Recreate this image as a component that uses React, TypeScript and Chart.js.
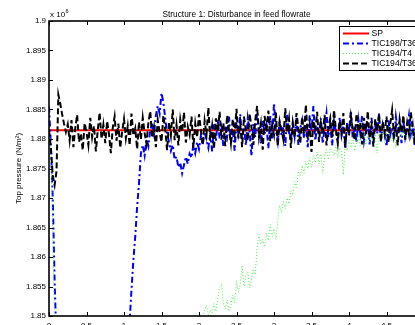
import React, { useEffect, useRef } from "react";
import { Chart, registerables } from "chart.js";

Chart.register(...registerables);

// ---------- data ----------
const SAMPLE_STEP = 0.025; // time between samples
const X_TICKS = [0, 0.5, 1, 1.5, 2, 2.5, 3, 3.5, 4, 4.5, 5];
const X_TICK_LABELS = ["0", "0.5", "1", "1.5", "2", "2.5", "3", "3.5", "4", "4.5", "5"];
const Y_TICKS = [1.85, 1.855, 1.86, 1.865, 1.87, 1.875, 1.88, 1.885, 1.89, 1.895, 1.9];
const Y_TICK_LABELS = ["1.85", "1.855", "1.86", "1.865", "1.87", "1.875", "1.88", "1.885", "1.89", "1.895", "1.9"];

const SERIES_NAMES = ["SP", "TIC198/T36", "TIC194/T4", "TIC194/T36"];

const SP_TIME = [0, 5];
const SP_VALUES = [1.8815, 1.8815];

const TIC198_T36 = [
  1.8855, 1.8790, 1.8700, 1.8560, 1.8450,
  1.840, 1.835, 1.832, 1.830, 1.829, 1.828, 1.828, 1.829, 1.830, 1.831,
  1.832, 1.833, 1.834, 1.835, 1.836, 1.837, 1.838, 1.838, 1.839, 1.840,
  1.840, 1.841, 1.841, 1.842, 1.842, 1.843, 1.843, 1.844, 1.844, 1.845,
  1.845, 1.846, 1.846, 1.847, 1.847, 1.847, 1.848, 1.848,
  1.8490, 1.8545, 1.8595, 1.8635, 1.8685, 1.8725, 1.8775, 1.8790, 1.8772, 1.8800,
  1.8788, 1.8815, 1.8826, 1.8808, 1.8840, 1.8856, 1.8843, 1.8878, 1.8862, 1.8835,
  1.8808, 1.8795, 1.8780, 1.8790, 1.8765, 1.8770, 1.8752, 1.8760, 1.8742, 1.8756,
  1.8770, 1.8758, 1.8775, 1.8768, 1.8790, 1.8776, 1.8795, 1.8783, 1.8805, 1.8790,
  1.8812, 1.8798,
  1.8785, 1.8810, 1.8779, 1.8825, 1.8796, 1.8832, 1.8801, 1.8818, 1.8787, 1.8822,
  1.8805, 1.8838, 1.8793, 1.8815, 1.8780, 1.8828, 1.8809, 1.8842, 1.8797, 1.8820,
  1.8789, 1.8835, 1.8812, 1.8771, 1.8826, 1.8803, 1.8845, 1.8818, 1.8792, 1.8833,
  1.8808, 1.8824, 1.8784, 1.8839, 1.8800, 1.8861, 1.8814, 1.8795, 1.8830, 1.8806,
  1.8820, 1.8788, 1.8841, 1.8811, 1.8798, 1.8827, 1.8804, 1.8836, 1.8790, 1.8818,
  1.8832, 1.8801, 1.8825, 1.8786, 1.8840, 1.8813, 1.8856, 1.8797, 1.8822, 1.8808,
  1.8835, 1.8792, 1.8819, 1.8844, 1.8803, 1.8826, 1.8789, 1.8831, 1.8812, 1.8798,
  1.8837, 1.8806, 1.8823, 1.8783, 1.8829, 1.8815, 1.8848, 1.8800, 1.8821, 1.8794,
  1.8833, 1.8810, 1.8840, 1.8797, 1.8818, 1.8827, 1.8791, 1.8836, 1.8805, 1.8822,
  1.8809, 1.8843, 1.8796, 1.8825, 1.8812, 1.8787, 1.8834, 1.8807, 1.8820, 1.8799,
  1.8838, 1.8814, 1.8828, 1.8793, 1.8831, 1.8802, 1.8816, 1.8840, 1.8808, 1.8824,
  1.8790, 1.8829, 1.8812, 1.8835, 1.8801, 1.8818,
];

const TIC194_T4 = [
  1.8812, 1.8790, 1.8640, 1.8480,
  1.842, 1.836, 1.831, 1.827, 1.824, 1.822, 1.820, 1.819, 1.818, 1.818,
  1.818, 1.819, 1.819, 1.820, 1.821, 1.821, 1.822, 1.823, 1.824, 1.824,
  1.825, 1.826, 1.827, 1.828, 1.828, 1.829, 1.830, 1.831, 1.832, 1.833,
  1.833, 1.834, 1.835, 1.836, 1.837, 1.837, 1.838, 1.839, 1.840, 1.840,
  1.841, 1.842, 1.842, 1.843, 1.843, 1.844, 1.844, 1.845, 1.845, 1.846,
  1.846, 1.846, 1.847, 1.847, 1.847, 1.848, 1.848, 1.848, 1.848, 1.849,
  1.848, 1.849, 1.849, 1.848, 1.849, 1.849, 1.849, 1.848, 1.849, 1.849,
  1.848, 1.849, 1.849, 1.848, 1.849, 1.8485,
  1.8497, 1.8503, 1.8496, 1.8512, 1.8518, 1.8502, 1.8510, 1.8505, 1.8521, 1.8508,
  1.8530, 1.8548, 1.8555, 1.8520, 1.8512, 1.8527, 1.8508, 1.8518, 1.8535, 1.8522,
  1.8560, 1.8541, 1.8553, 1.8585, 1.8550, 1.8568, 1.8575, 1.8548, 1.8562, 1.8580,
  1.8570, 1.8618, 1.8638, 1.8622, 1.8630, 1.8617, 1.8640, 1.8628, 1.8655, 1.8635,
  1.8648, 1.8630, 1.8662, 1.8688, 1.8675, 1.8695, 1.8682, 1.8700, 1.8690, 1.8712,
  1.8705, 1.8728, 1.8718, 1.8745, 1.8738, 1.8755, 1.8742, 1.8762, 1.8750, 1.8768,
  1.8752, 1.8772, 1.8760, 1.8778, 1.8758, 1.8775, 1.8742, 1.8770, 1.8782, 1.8765,
  1.8785, 1.8778, 1.8772, 1.8790, 1.8768, 1.8785, 1.8778, 1.8740, 1.8792, 1.8780,
  1.8798, 1.8785, 1.8805, 1.8780, 1.8795, 1.8808, 1.8788, 1.8802, 1.8812, 1.8790,
  1.8806, 1.8795, 1.8815, 1.8792, 1.8808, 1.8776, 1.8810, 1.8798, 1.8818, 1.8794,
  1.8812, 1.8800, 1.8822, 1.8797, 1.8815, 1.8785, 1.8812, 1.8826, 1.8803, 1.8818,
  1.8798, 1.8814, 1.8805, 1.8822, 1.8800, 1.8816, 1.8808, 1.8820, 1.8802, 1.8815,
  1.8810,
];

const TIC194_T36 = [
  1.8815, 1.8785, 1.8738, 1.8722, 1.8745, 1.8875, 1.8860, 1.8842, 1.8826, 1.8812,
  1.8825, 1.8798, 1.8832, 1.8786, 1.8818, 1.8841, 1.8795, 1.8809, 1.8781, 1.8827,
  1.8812, 1.8790, 1.8836, 1.8803, 1.8822, 1.8779, 1.8815, 1.8845, 1.8800, 1.8824,
  1.8793, 1.8830, 1.8808, 1.8776, 1.8819, 1.8838, 1.8797, 1.8826, 1.8785, 1.8812,
  1.8834, 1.8801, 1.8822, 1.8789, 1.8843, 1.8806, 1.8818, 1.8783, 1.8829, 1.8799,
  1.8836, 1.8810, 1.8792, 1.8827, 1.8847, 1.8802, 1.8820, 1.8786, 1.8832, 1.8811,
  1.8795, 1.8840, 1.8816, 1.8781, 1.8828, 1.8806, 1.8850, 1.8798, 1.8824, 1.8789,
  1.8833, 1.8812, 1.8845, 1.8794, 1.8821, 1.8807, 1.8838, 1.8785, 1.8826, 1.8803,
  1.8842, 1.8815, 1.8790, 1.8831, 1.8808, 1.8853, 1.8797, 1.8822, 1.8783, 1.8835,
  1.8812, 1.8846, 1.8799, 1.8827, 1.8788, 1.8840, 1.8816, 1.8793, 1.8834, 1.8809,
  1.8851, 1.8801, 1.8825, 1.8786, 1.8838, 1.8814, 1.8797, 1.8843, 1.8819, 1.8790,
  1.8832, 1.8856, 1.8804, 1.8826, 1.8782, 1.8839, 1.8812, 1.8848, 1.8796, 1.8823,
  1.8807, 1.8845, 1.8788, 1.8830, 1.8815, 1.8799, 1.8852, 1.8811, 1.8834, 1.8785,
  1.8826, 1.8803, 1.8844, 1.8818, 1.8792, 1.8837, 1.8809, 1.8858, 1.8800, 1.8824,
  1.8778, 1.8831, 1.8813, 1.8846, 1.8795, 1.8827, 1.8808, 1.8841, 1.8789, 1.8820,
  1.8835, 1.8802, 1.8849, 1.8816, 1.8793, 1.8830, 1.8811, 1.8844, 1.8786, 1.8825,
  1.8806, 1.8839, 1.8817, 1.8798, 1.8843, 1.8812, 1.8828, 1.8791, 1.8836, 1.8808,
  1.8847, 1.8801, 1.8823, 1.8787, 1.8834, 1.8815, 1.8842, 1.8796, 1.8829, 1.8810,
  1.8838, 1.8794, 1.8826, 1.8849, 1.8805, 1.8821, 1.8789, 1.8833, 1.8812, 1.8840,
  1.8799, 1.8827, 1.8808, 1.8845, 1.8817, 1.8792, 1.8836, 1.8811, 1.8829, 1.8803,
  1.8821,
];

const TIME = TIC194_T36.map((_, i) => Number((i * SAMPLE_STEP).toFixed(3)));

// ---------- styling ----------
const FONT = "'Liberation Sans', Arial, Helvetica, sans-serif";
const CANVAS_W = 440;
const CANVAS_H = 345;

const STYLES = [
  { color: "#ff0000", width: 2, dash: [] as number[] },
  { color: "#0000ff", width: 2, dash: [6, 3, 2, 3] },
  { color: "#4cf04c", width: 1, dash: [1, 2] },
  { color: "#000000", width: 2, dash: [6, 3] },
];

const toPoints = (xs: number[], ys: number[]) => xs.map((x, i) => ({ x, y: ys[i] }));

const decorPlugin = {
  id: "matlabDecor",
  afterDraw(chart: any) {
    const { ctx, chartArea } = chart;
    const { left, right, top, bottom } = chartArea;
    const xs = chart.scales.x;
    const ys = chart.scales.y;
    ctx.save();

    // inward ticks
    ctx.strokeStyle = "#000";
    ctx.lineWidth = 1;
    ctx.setLineDash([]);
    ctx.beginPath();
    X_TICKS.forEach((v) => {
      const px = Math.round(xs.getPixelForValue(v)) + 0.5;
      ctx.moveTo(px, bottom);
      ctx.lineTo(px, bottom - 4);
      ctx.moveTo(px, top);
      ctx.lineTo(px, top + 4);
    });
    Y_TICKS.forEach((v) => {
      const py = Math.round(ys.getPixelForValue(v)) + 0.5;
      ctx.moveTo(left, py);
      ctx.lineTo(left + 4, py);
      ctx.moveTo(right, py);
      ctx.lineTo(right - 4, py);
    });
    ctx.stroke();

    // axes box
    ctx.lineWidth = 1.6;
    ctx.strokeRect(left, top, right - left, bottom - top);

    // title
    ctx.fillStyle = "#000";
    ctx.font = `8.3px ${FONT}`;
    ctx.textAlign = "center";
    ctx.textBaseline = "alphabetic";
    ctx.fillText("Structure 1: Disturbance in feed flowrate", (left + right) / 2, 17);

    // exponent label
    ctx.textAlign = "left";
    ctx.font = `8px ${FONT}`;
    ctx.fillText("x 10", left + 1, 17);
    const w = ctx.measureText("x 10").width;
    ctx.font = `5.5px ${FONT}`;
    ctx.fillText("6", left + 1 + w + 0.5, 12.5);

    // y label
    ctx.save();
    ctx.translate(18.5, (top + bottom) / 2);
    ctx.rotate(-Math.PI / 2);
    ctx.font = `8px ${FONT}`;
    ctx.textAlign = "center";
    ctx.textBaseline = "middle";
    ctx.fillText("Top pressure (N/m\u00B2)", 0, 0);
    ctx.restore();

    // legend
    const lx = 339.5;
    const ly = 26.5;
    const lw = 84;
    const lh = 44;
    ctx.fillStyle = "#fff";
    ctx.fillRect(lx, ly, lw, lh);
    ctx.strokeStyle = "#000";
    ctx.lineWidth = 1;
    ctx.strokeRect(lx, ly, lw, lh);
    SERIES_NAMES.forEach((name, i) => {
      const y = 33.5 + i * 10;
      const st = STYLES[i];
      ctx.strokeStyle = st.color;
      ctx.lineWidth = st.width;
      ctx.setLineDash(st.dash);
      ctx.beginPath();
      ctx.moveTo(343, y);
      ctx.lineTo(369, y);
      ctx.stroke();
      ctx.setLineDash([]);
      ctx.fillStyle = "#000";
      ctx.font = `8.6px ${FONT}`;
      ctx.textAlign = "left";
      ctx.textBaseline = "middle";
      ctx.fillText(name, 371.5, y + 0.5);
    });

    ctx.restore();
  },
};

export default function App() {
  const canvasRef = useRef<HTMLCanvasElement | null>(null);

  useEffect(() => {
    if (!canvasRef.current) return;
    const seriesData = [
      toPoints(SP_TIME, SP_VALUES),
      toPoints(TIME, TIC198_T36),
      toPoints(TIME, TIC194_T4),
      toPoints(TIME, TIC194_T36),
    ];
    const orders = [3, 2, 1, 0];
    const chart = new Chart(canvasRef.current, {
      type: "line",
      data: {
        datasets: SERIES_NAMES.map((name, i) => ({
          label: name,
          data: seriesData[i],
          borderColor: STYLES[i].color,
          borderWidth: STYLES[i].width,
          borderDash: STYLES[i].dash,
          pointRadius: 0,
          fill: false,
          tension: 0,
          order: orders[i],
        })),
      },
      options: {
        animation: false,
        responsive: false,
        devicePixelRatio: 1,
        events: [],
        layout: { padding: { left: 0, top: 21, right: CANVAS_W - 424, bottom: 0 } },
        plugins: { legend: { display: false }, title: { display: false }, tooltip: { enabled: false } },
        scales: {
          x: {
            type: "linear",
            min: 0,
            max: 5,
            grid: { display: false, drawTicks: false },
            border: { display: false },
            afterFit: (s: any) => {
              s.height = CANVAS_H - 316;
            },
            afterBuildTicks: (s: any) => {
              s.ticks = X_TICKS.map((v) => ({ value: v }));
            },
            ticks: {
              autoSkip: false,
              maxRotation: 0,
              padding: 5,
              color: "#000",
              font: { family: FONT, size: 8 },
              callback: (_v: any, i: number) => X_TICK_LABELS[i],
            },
          },
          y: {
            type: "linear",
            min: 1.85,
            max: 1.9,
            grid: { display: false, drawTicks: false },
            border: { display: false },
            afterFit: (s: any) => {
              s.width = 49;
            },
            afterBuildTicks: (s: any) => {
              s.ticks = Y_TICKS.map((v) => ({ value: v }));
            },
            ticks: {
              autoSkip: false,
              padding: 3,
              color: "#000",
              font: { family: FONT, size: 8 },
              callback: (_v: any, i: number) => Y_TICK_LABELS[i],
            },
          },
        },
      },
      plugins: [decorPlugin],
    });
    return () => chart.destroy();
  }, []);

  return (
    <div
      style={{
        position: "fixed",
        left: 0,
        top: 0,
        width: 415,
        height: 325,
        overflow: "hidden",
        background: "#fff",
      }}
    >
      <canvas
        ref={canvasRef}
        width={CANVAS_W}
        height={CANVAS_H}
        style={{ display: "block", width: CANVAS_W, height: CANVAS_H }}
      />
    </div>
  );
}
